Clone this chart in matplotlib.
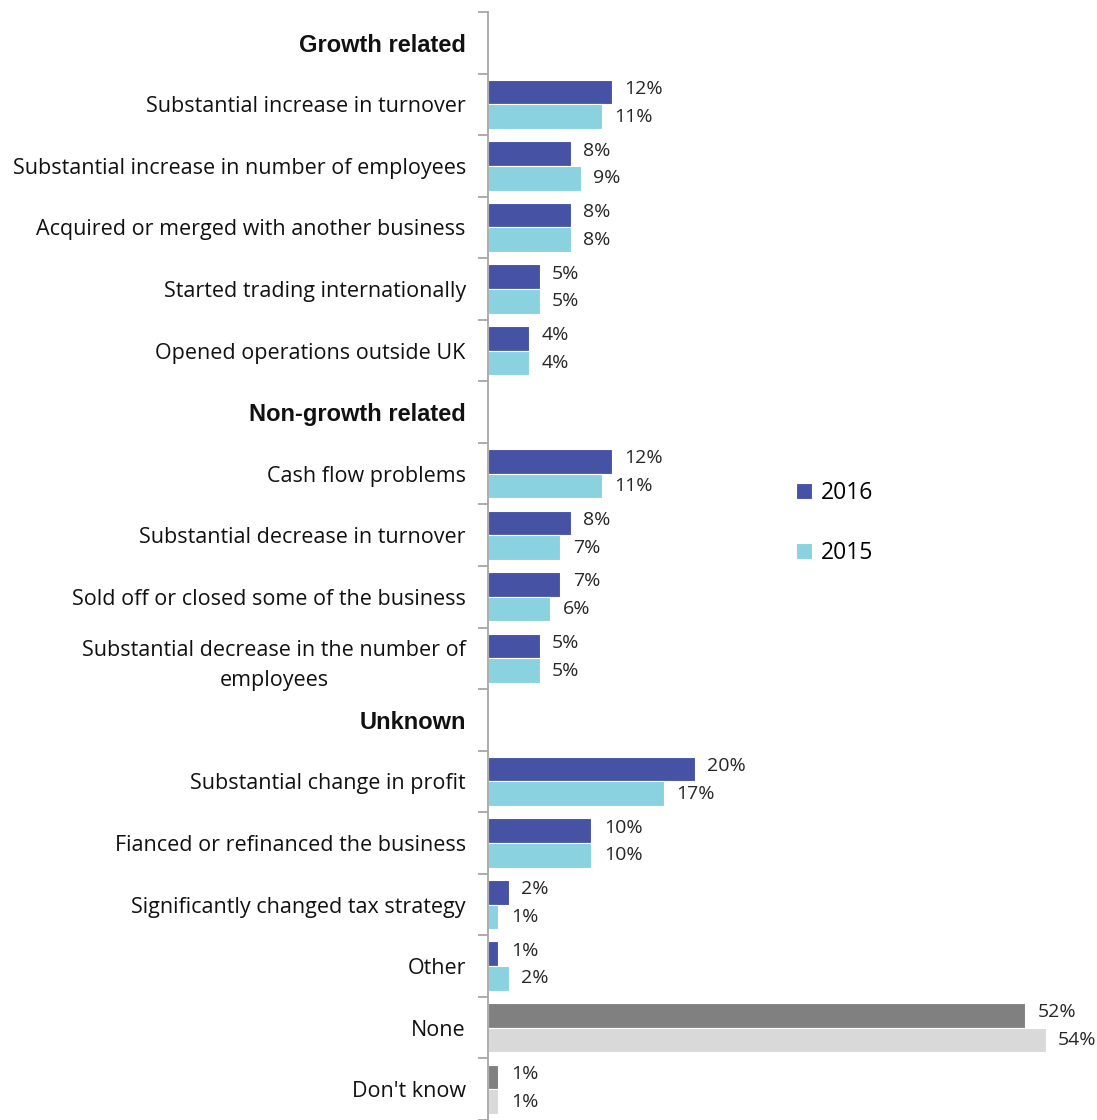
import matplotlib.pyplot as plt
import numpy as np

# categories top to bottom; header rows have no values
labels = [
    "Growth related",
    "Substantial increase in turnover",
    "Substantial increase in number of employees",
    "Acquired or merged with another business",
    "Started trading internationally",
    "Opened operations outside UK",
    "Non-growth related",
    "Cash flow problems",
    "Substantial decrease in turnover",
    "Sold off or closed some of the business",
    "Substantial decrease in the number of\nemployees",
    "Unknown",
    "Substantial change in profit",
    "Fianced or refinanced the business",
    "Significantly changed tax strategy",
    "Other",
    "None",
    "Don't know",
]
headers = ["Growth related", "Non-growth related", "Unknown"]
v2016 = [None, 12, 8, 8, 5, 4, None, 12, 8, 7, 5, None, 20, 10, 2, 1, 52, 1]
v2015 = [None, 11, 9, 8, 5, 4, None, 11, 7, 6, 5, None, 17, 10, 1, 2, 54, 1]
grey_rows = ["None", "Don't know"]

c16, c15 = '#4653A5', '#8BD2E0'
g16, g15 = '#808080', '#D9D9D9'

plt.rcParams['font.family'] = ['Open Sans', 'DejaVu Sans']

fig = plt.figure( figsize = ( 10.97, 11.2 ), dpi = 100 )
ax = fig.add_axes( [ 488/1097, 0.0, 1 - 488/1097, 1 - 12/1120 ] )

n = len( labels )
y = np.arange( n )
h = 0.4

for i, lab in enumerate( labels ):
    if v2016[i] is None:
        continue
    grey = lab in grey_rows
    b1 = ax.barh( i - h/2, v2016[i], height = h, color = g16 if grey else c16,
                  edgecolor = 'white', linewidth = 0.8 )
    b2 = ax.barh( i + h/2, v2015[i], height = h, color = g15 if grey else c15,
                  edgecolor = 'white', linewidth = 0.8 )
    if i == 1:
        leg_handles = [ b1, b2 ]
    ax.text( v2016[i] + 1.2, i - h/2 - 0.05, f"{v2016[i]}%", va = 'center', ha = 'left',
             fontsize = 14, color = '#262626' )
    ax.text( v2015[i] + 1.2, i + h/2, f"{v2015[i]}%", va = 'center', ha = 'left',
             fontsize = 14, color = '#262626' )

ax.set_xlim( 0, ( 1097 - 488 ) / 10.33 )
ax.set_ylim( n - 0.5, -0.5 )

for s in [ 'top', 'right', 'bottom' ]:
    ax.spines[s].set_visible( False )
ax.spines['left'].set_color( '#A6A6A6' )
ax.spines['left'].set_linewidth( 1.3 )
ax.set_xticks( [] )

ax.set_yticks( y )
ax.set_yticklabels( labels )
ax.tick_params( axis = 'y', which = 'major', length = 0, pad = 16 )
ax.set_yticks( np.arange( -0.5, n, 1 ), minor = True )
ax.tick_params( axis = 'y', which = 'minor', length = 7, width = 1.3, color = '#A6A6A6' )

for t in ax.get_yticklabels():
    t.set_multialignment( 'center' )
    t.set_linespacing( 1.6 )
    if t.get_text() in headers:
        t.set_fontweight( 'bold' )
        t.set_family( [ 'Liberation Sans', 'DejaVu Sans' ] )
        t.set_fontsize( 17 )
    else:
        t.set_fontsize( 15.5 )
    t.set_color( '#111111' )

fig.legend( leg_handles, [ '2016', '2015' ], loc = 'upper left',
            bbox_to_anchor = ( 775/1097, 1 - 460/1120 ), frameon = False,
            fontsize = 16.5, handlelength = 0.7, handleheight = 0.7,
            handletextpad = 0.4, labelspacing = 1.6 )

fig.savefig( 'out.png', dpi = 100 )
